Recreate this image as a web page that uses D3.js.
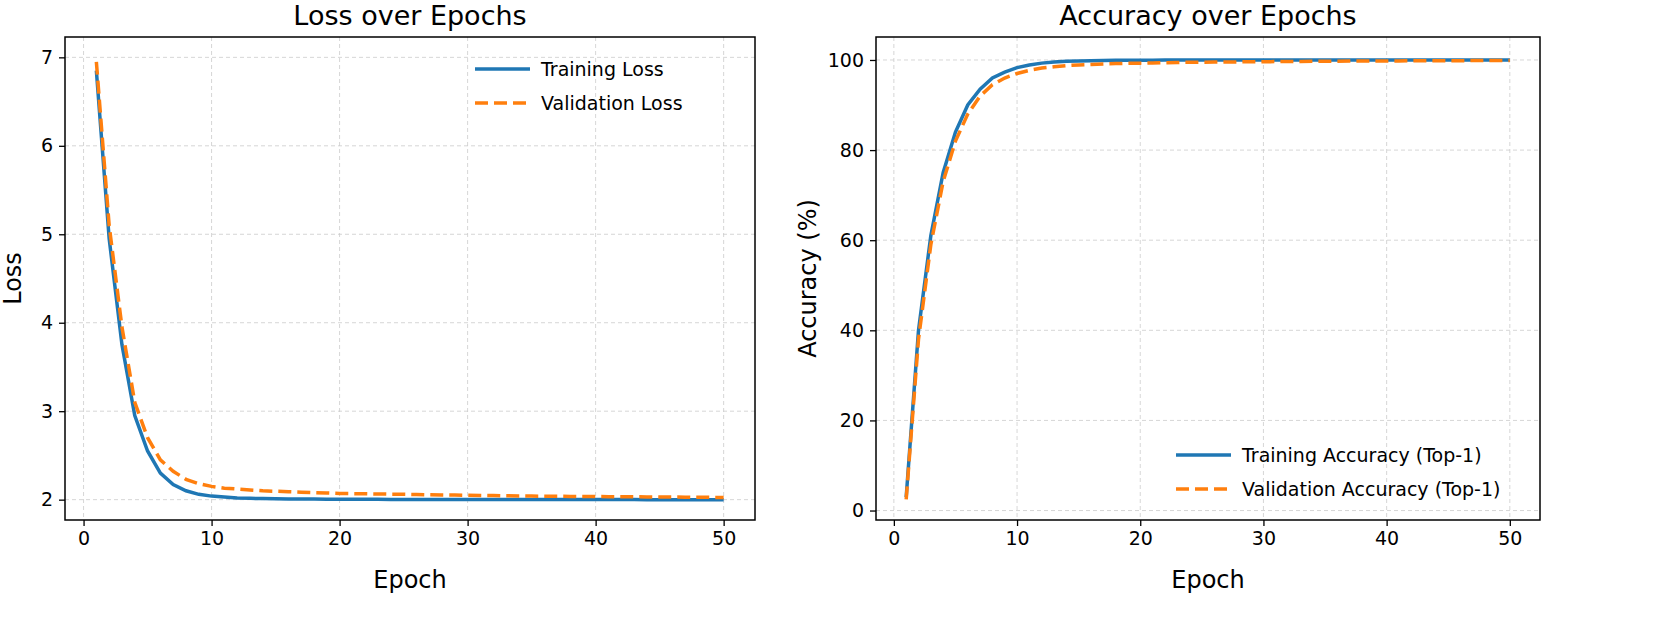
<!DOCTYPE html>
<html><head><meta charset="utf-8">
<script src="https://cdn.jsdelivr.net/npm/d3@7"></script>
<style>body{margin:0;background:#fff}text{font-family:"DejaVu Sans",sans-serif}</style>
</head><body><svg id="chart" width="1654" height="628"></svg>
<script>
const epochs = d3.range(1, 51);
const trainLoss = [6.85,4.95,3.75,2.95,2.55,2.30,2.17,2.10,2.06,2.04,2.03,2.02,2.015,2.012,2.01,2.008,2.007,2.006,2.005,2.005,
  2.004,2.004,2.004,2.003,2.003,2.003,2.003,2.002,2.002,2.002,2.002,2.002,2.002,2.001,2.001,2.001,2.001,2.001,2.001,2.001,
  2.001,2.001,2.001,2.0,2.0,2.0,2.0,2.0,2.0,2.0];
const valLoss = [6.95,5.10,3.95,3.10,2.70,2.45,2.32,2.23,2.18,2.15,2.13,2.12,2.11,2.10,2.095,2.09,2.085,2.08,2.075,2.07,
  2.068,2.066,2.064,2.062,2.06,2.058,2.056,2.054,2.052,2.05,2.048,2.046,2.044,2.042,2.04,2.039,2.038,2.037,2.036,2.035,
  2.034,2.033,2.032,2.031,2.03,2.029,2.028,2.027,2.026,2.025];
const trainAcc = [3,40,61,75,84,90,93.5,96,97.3,98.3,98.9,99.3,99.55,99.7,99.8,99.85,99.9,99.92,99.94,99.95,
  99.96,99.97,99.97,99.98,99.98,99.98,99.99,99.99,99.99,99.99,100,100,100,100,100,100,100,100,100,100,
  100,100,100,100,100,100,100,100,100,100];
const valAcc = [2.5,38,59,73,82,88,92,94.5,96,97,97.7,98.2,98.5,98.75,98.9,99.0,99.1,99.2,99.25,99.3,
  99.35,99.4,99.45,99.48,99.5,99.53,99.56,99.58,99.6,99.62,99.64,99.66,99.68,99.7,99.72,99.73,99.75,99.76,99.78,99.79,
  99.8,99.81,99.82,99.83,99.84,99.85,99.86,99.87,99.88,99.89];
const xTicks = [0,10,20,30,40,50];
const lossTicks = [2,3,4,5,6,7];
const accTicks = [0,20,40,60,80,100];

const svg = d3.select("#chart");
const blue = "#1f77b4", orange = "#ff7f0e";

function panel(o) {
  const w = o.x1 - o.x0, h = o.y1 - o.y0;
  const g = svg.append("g").attr("transform", `translate(${o.x0},${o.y0})`);
  const x = d3.scaleLinear().domain([-1.45, 52.45]).range([0, w]);
  const y = d3.scaleLinear().domain(o.ydom).range([h, 0]);
  // grid
  g.selectAll(".gx").data(xTicks).join("line").attr("x1", d => x(d)).attr("x2", d => x(d))
    .attr("y1", 0).attr("y2", h).attr("stroke", "#ccc").attr("stroke-dasharray", "4,3").attr("stroke-width", 0.8);
  g.selectAll(".gy").data(o.yticks).join("line").attr("y1", d => y(d)).attr("y2", d => y(d))
    .attr("x1", 0).attr("x2", w).attr("stroke", "#ccc").attr("stroke-dasharray", "4,3").attr("stroke-width", 0.8);
  const line = d3.line().x((d, i) => x(epochs[i])).y(d => y(d));
  g.append("path").datum(o.s1).attr("d", line).attr("fill", "none").attr("stroke", blue).attr("stroke-width", 3.5);
  g.append("path").datum(o.s2).attr("d", line).attr("fill", "none").attr("stroke", orange).attr("stroke-width", 3.5)
    .attr("stroke-dasharray", "13,6");
  g.append("rect").attr("width", w).attr("height", h).attr("fill", "none").attr("stroke", "#000").attr("stroke-width", 1.5);
  const xa = g.append("g").attr("transform", `translate(0,${h})`)
    .call(d3.axisBottom(x).tickValues(xTicks).tickFormat(d3.format("d")).tickSize(6).tickPadding(6));
  const ya = g.append("g").call(d3.axisLeft(y).tickValues(o.yticks).tickFormat(d3.format("d")).tickSize(6).tickPadding(6));
  [xa, ya].forEach(a => { a.select(".domain").remove(); a.selectAll("text").attr("font-size", 19).attr("fill", "#000");
    a.selectAll("line").attr("stroke-width", 1.3); });
  g.append("text").attr("x", w / 2).attr("y", -12).attr("text-anchor", "middle").attr("font-size", 27).text(o.title);
  g.append("text").attr("x", w / 2).attr("y", h + 68).attr("text-anchor", "middle").attr("font-size", 24).text("Epoch");
  g.append("text").attr("transform", `translate(${o.ylx},${h / 2}) rotate(-90)`).attr("text-anchor", "middle")
    .attr("font-size", 24).text(o.ylabel);
  const lg = g.append("g").attr("transform", `translate(${o.lx},${o.ly})`);
  [[o.n1, blue, null], [o.n2, orange, "13,6"]].forEach(([t, c, da], i) => {
    lg.append("line").attr("x1", 0).attr("x2", 55).attr("y1", i * 34).attr("y2", i * 34).attr("stroke", c)
      .attr("stroke-width", 3.5).attr("stroke-dasharray", da);
    lg.append("text").attr("x", 66).attr("y", i * 34 + 7).attr("font-size", 19).text(t);
  });
}

panel({x0: 65, x1: 755, y0: 37, y1: 520, ydom: [1.77, 7.23], yticks: lossTicks, s1: trainLoss, s2: valLoss,
  title: "Loss over Epochs", ylabel: "Loss", ylx: -44, lx: 410, ly: 32, n1: "Training Loss", n2: "Validation Loss"});
panel({x0: 876, x1: 1540, y0: 37, y1: 520, ydom: [-2.1, 105.1], yticks: accTicks, s1: trainAcc, s2: valAcc,
  title: "Accuracy over Epochs", ylabel: "Accuracy (%)", ylx: -60, lx: 300, ly: 418,
  n1: "Training Accuracy (Top-1)", n2: "Validation Accuracy (Top-1)"});
</script></body></html>
